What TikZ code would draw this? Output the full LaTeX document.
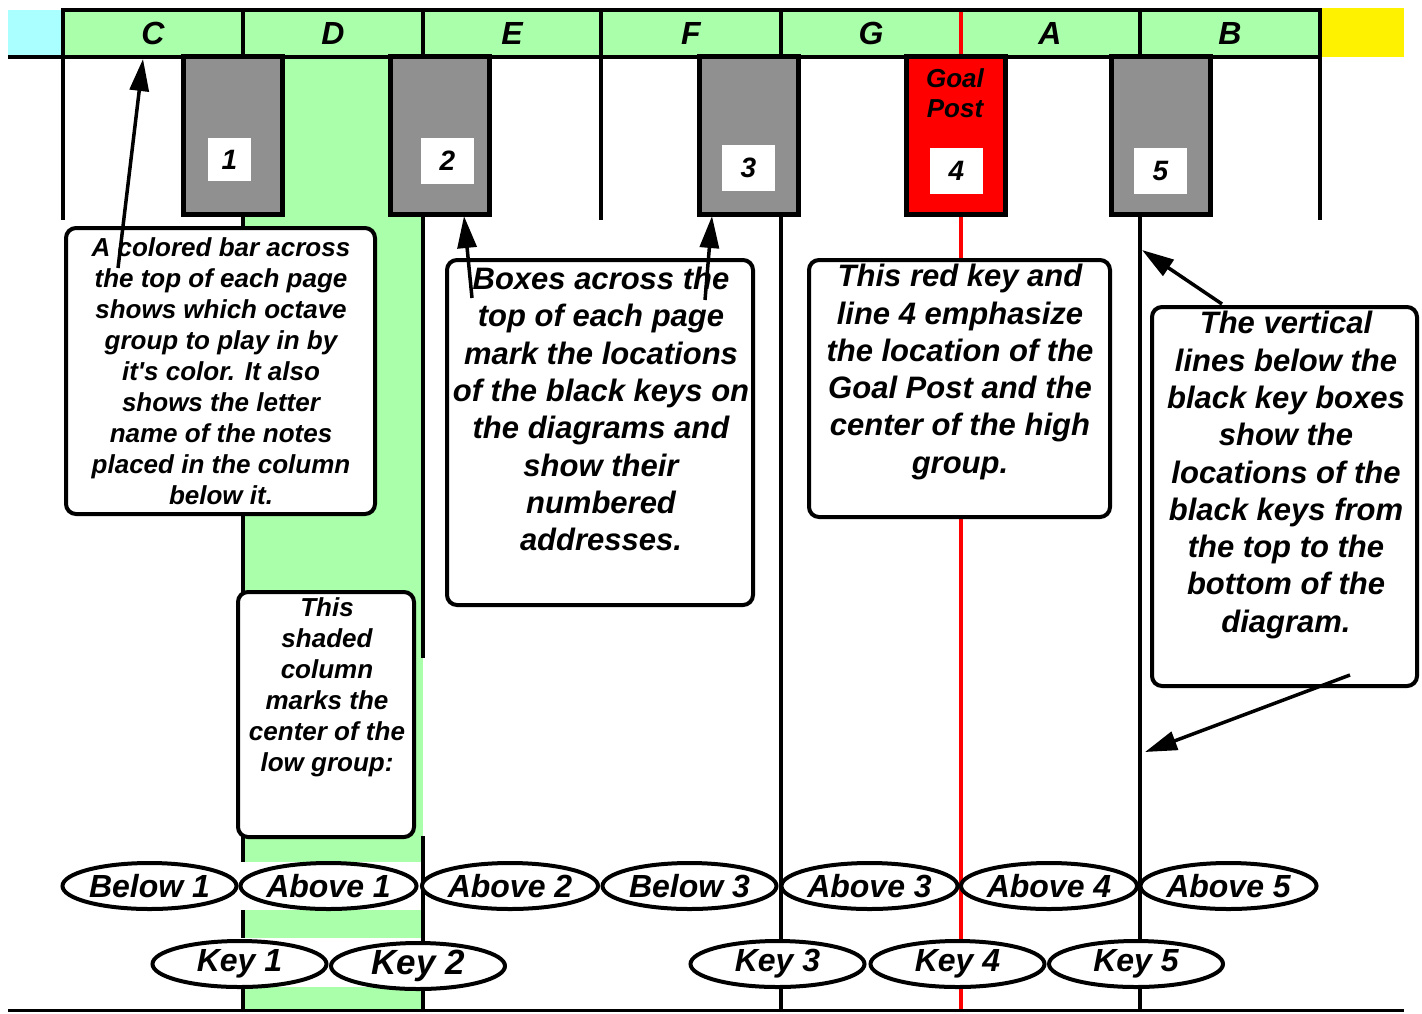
\documentclass[tikz,border=0pt]{standalone}
\usepackage{fontspec}
\setmainfont{Liberation Sans}
\usetikzlibrary{arrows.meta,shapes.geometric}
\definecolor{barGreen}{HTML}{AAFFAA}
\definecolor{barCyan}{HTML}{AAFFFF}
\definecolor{keyGray}{HTML}{909090}
\begin{document}
\begin{tikzpicture}[x=1pt,y=-1pt,
  gridline/.style={line width=4pt},
  blackkey/.style={draw, line width=5pt, fill=keyGray, minimum width=99pt, minimum height=158pt, inner sep=0pt},
  numbox/.style={fill=white, minimum width=53pt, minimum height=46pt, inner sep=0pt, font=\fontsize{28}{30}\selectfont\bfseries\itshape},
  callout/.style={draw, line width=4pt, fill=white, rounded corners=10pt, inner sep=0pt},
  smalltext/.style={align=center, inner sep=0pt, font=\fontsize{26}{31}\selectfont\bfseries\itshape},
  bigtext/.style={align=center, inner sep=0pt, font=\fontsize{31}{37.3}\selectfont\bfseries\itshape},
  oval/.style={draw, ellipse, line width=4pt, fill=white, minimum width=174pt, minimum height=46pt, inner sep=0pt, font=\fontsize{32}{34}\selectfont\bfseries\itshape},
  letter/.style={font=\fontsize{32}{34}\selectfont\bfseries\itshape},
  ptr/.style={line width=3.5pt, -{Triangle[length=32pt,width=19pt]}}
]
\useasboundingbox (0,0) rectangle (1422,1013);
\fill[white] (0,0) rectangle (1422,1013);

% shaded column
\fill[barGreen] (243,57) rectangle (423,1010);
\fill[white] (241,862) rectangle (421,910);
\fill[white] (241,938) rectangle (421,987);

% top bar
\fill[barCyan] (8,10) rectangle (63,57);
\fill[barGreen] (63,10) rectangle (1320,57);
\fill[yellow] (1320,8) rectangle (1404,57);

% vertical lines
\draw[gridline] (63,10) -- (63,220);
\draw[gridline] (243,10) -- (243,862);
\draw[gridline] (243,910) -- (243,938);
\draw[gridline] (243,987) -- (243,1010);
\draw[gridline] (423,10) -- (423,658);
\draw[gridline] (423,836) -- (423,1010);
\draw[gridline] (601,10) -- (601,220);
\draw[gridline] (781,10) -- (781,1010);
\draw[gridline] (1140,10) -- (1140,1010);
\draw[gridline] (1320,10) -- (1320,220);
\draw[red, line width=3.5pt] (961,10) -- (961,1010);

% horizontal lines
\draw[gridline] (61,10) -- (1322,10);
\draw[gridline] (8,57) -- (1322,57);
\draw[line width=3pt] (8,1010) -- (1404,1010);

% letters
\node[letter] (lC) at (153,33) {C};
\node[letter] (lD) at (333,33) {D};
\node[letter] (lE) at (512,33) {E};
\node[letter] (lF) at (691,33) {F};
\node[letter] (lG) at (871,33) {G};
\node[letter] (lA) at (1050,33) {A};
\node[letter] (lB) at (1230,33) {B};

% black keys
\node[blackkey] (k1) at (233,135) {};
\node[blackkey] (k2) at (440,135) {};
\node[blackkey] (k3) at (749,135) {};
\node[blackkey, fill=red] (k4) at (955.5,135) {};
\node[blackkey] (k5) at (1161,135) {};
\node[numbox, minimum width=43pt, minimum height=43pt] (n1) at (229.5,159.5) {1};
\node[numbox] (n2) at (447.5,161) {2};
\node[numbox] (n3) at (748.5,168) {3};
\node[numbox] (n4) at (956.5,171) {4};
\node[numbox] (n5) at (1160.5,171) {5};
\node[align=center, inner sep=0pt, font=\fontsize{26}{30}\selectfont\bfseries\itshape] (goal) at (955,93) {Goal\\Post};

% callout boxes
\node[callout, minimum width=309pt, minimum height=286pt] (boxA) at (220.5,371) {};
\node[smalltext] (txtA) at (221,371) {A colored bar across\\the top of each page\\shows which octave\\group to play in by\\it\textquotesingle s color. It also\\shows the letter\\name of the notes\\placed in the column\\below it.};

\node[callout, minimum width=306pt, minimum height=345pt] (boxB) at (600,432.5) {};
\node[bigtext] (txtB) at (601,409) {Boxes across the\\top of each page\\mark the locations\\of the black keys on\\the diagrams and\\show their\\numbered\\addresses.};

\node[callout, minimum width=301pt, minimum height=257pt] (boxC) at (959.5,388.5) {};
\node[bigtext] (txtC) at (960,372) {This red key and\\line 4 emphasize\\the location of the\\Goal Post and the\\center of the high\\group.};

\node[callout, minimum width=265pt, minimum height=379pt] (boxD) at (1284.5,496.5) {};
\node[bigtext] (txtD) at (1286,475) {The vertical\\lines below the\\black key boxes\\show the\\locations of the\\black keys from\\the top to the\\bottom of the\\diagram.};

\node[callout, minimum width=176pt, minimum height=245pt] (boxE) at (326,714.5) {};
\node[smalltext] (txtE) at (327,687) {This\\shaded\\column\\marks the\\center of the\\low group:};

% ellipses, upper row
\node[oval] (below1) at (149.5,886) {Below 1};
\node[oval] (above1) at (328.5,886) {Above 1};
\node[oval] (above2) at (510,886) {Above 2};
\node[oval] (below3) at (689.5,886) {Below 3};
\node[oval] (above3) at (869.5,886) {Above 3};
\node[oval] (above4) at (1049,886) {Above 4};
\node[oval] (above5) at (1228.5,886) {Above 5};
% ellipses, lower row
\node[oval] (key1) at (239.5,964) {Key 1};
\node[oval, font=\fontsize{35}{37}\selectfont\bfseries\itshape] (key2) at (418,966) {Key 2};
\node[oval] (key3) at (777.5,964) {Key 3};
\node[oval] (key4) at (957.5,964) {Key 4};
\node[oval] (key5) at (1136,964) {Key 5};

% arrows
\coordinate (a1s) at (118,268);
\coordinate (a1e) at (143,59);
\coordinate (a2s) at (472,298);
\coordinate (a2e) at (464,216);
\coordinate (a3s) at (705,300);
\coordinate (a3e) at (712,216);
\coordinate (a4s) at (1222,304);
\coordinate (a4e) at (1142,250);
\coordinate (a5s) at (1350,675);
\coordinate (a5e) at (1145,752);
\draw[ptr] (a1s) -- (a1e);
\draw[ptr] (a2s) -- (a2e);
\draw[ptr] (a3s) -- (a3e);
\draw[ptr] (a4s) -- (a4e);
\draw[ptr] (a5s) -- (a5e);
\end{tikzpicture}
\end{document}
